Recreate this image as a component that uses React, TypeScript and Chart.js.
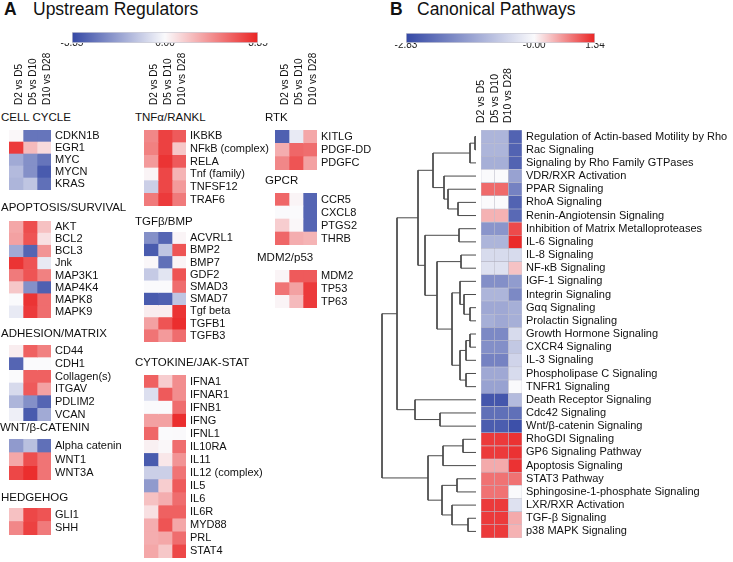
import React, { useEffect, useRef } from 'react';
import { Chart, registerables } from 'chart.js';

Chart.register(...registerables);

const FONT = "'Liberation Sans', Arial, Helvetica, sans-serif";
Chart.defaults.font.family = FONT;
Chart.defaults.color = '#111';

// ---------------- data ----------------
const comparisons = ['D2 vs D5', 'D5 vs D10', 'D10 vs D28'];

const rangeA = [-3.35, 3.35];
const colorTicksA = [-3.35, 0, 3.35];
const colorTickLabelsA = ['-3.35', '0.00', '3.35'];
const rangeB = [-2.83, 1.34];
const colorTicksB = [-2.83, 0, 1.34];
const colorTickLabelsB = ['-2.83', '-0.00', '1.34'];

const cellCycleRows = ['CDKN1B', 'EGR1', 'MYC', 'MYCN', 'KRAS'];
const cellCycleValues = [[0.05, -2.5, -2.5], [3.0, 1.0, 0.5], [-1.5, -2.0, -2.5], [-1.2, -2.0, -3.0], [-1.3, -1.0, -2.6]];

const apoptosisRows = ['AKT', 'BCL2', 'BCL3', 'Jnk', 'MAP3K1', 'MAP4K4', 'MAPK8', 'MAPK9'];
const apoptosisValues = [[1.3, 2.7, 0.9], [1.4, 2.6, 0.4], [-1.5, -2.8, 1.6], [3.1, 2.6, -0.3], [2.0, 2.6, 1.9], [0.8, -2.0, -2.9], [0, 3.1, 2.2], [-0.3, 3.0, 2.2]];

const adhesionRows = ['CD44', 'CDH1', 'Collagen(s)', 'ITGAV', 'PDLIM2', 'VCAN'];
const adhesionValues = [[0.2, 2.4, 1.9], [-2.8, 0, 0], [0, 2.4, 2.4], [-0.6, 2.5, 1.4], [-1.3, -2.0, -2.8], [-0.2, -3.0, -1.5]];

const wntRows = ['Alpha catenin', 'WNT1', 'WNT3A'];
const wntValues = [[-1.8, -1.1, -2.6], [1.3, 2.7, 2.1], [2.8, 3.2, 2.1]];

const hedgehogRows = ['GLI1', 'SHH'];
const hedgehogValues = [[0.9, 2.8, 2.6], [1.8, 2.9, 2.0]];

const tnfRows = ['IKBKB', 'NFkB (complex)', 'RELA', 'Tnf (family)', 'TNFSF12', 'TRAF6'];
const tnfValues = [[1.8, 2.9, 2.5], [1.9, 2.9, 0.8], [1.5, 3.1, 2.5], [0.1, 2.8, 1.1], [-0.8, 2.8, 1.5], [2.0, 3.0, 2.0]];

const tgfRows = ['ACVRL1', 'BMP2', 'BMP7', 'GDF2', 'SMAD3', 'SMAD7', 'Tgf beta', 'TGFB1', 'TGFB3'];
const tgfValues = [[-2.0, -2.8, 0.1], [-3.0, -1.0, 2.6], [0.05, -2.6, 0.1], [-0.9, -0.4, 2.6], [0, 0, 2.2], [-3.0, -2.9, -1.0], [0.2, 0.2, 3.1], [1.4, 2.6, 3.2], [2.1, 1.5, 2.2]];

const cytokineRows = ['IFNA1', 'IFNAR1', 'IFNB1', 'IFNG', 'IFNL1', 'IL10RA', 'IL11', 'IL12 (complex)', 'IL5', 'IL6', 'IL6R', 'MYD88', 'PRL', 'STAT4'];
const cytokineValues = [[2.4, 0.7, 1.7], [-0.5, 2.5, 1.7], [0, 0, 2.2], [1.4, 1.4, 3.2], [2.3, 0, 0.02], [0.15, 0.05, 2.2], [-3.0, 0.3, 1.6], [-0.8, -0.8, 2.1], [-1.8, 0.7, 2.5], [0.9, 1.2, 2.2], [0.4, 2.4, 2.4], [1.2, 2.6, 1.3], [1.2, 1.3, 2.2], [1.3, 0.8, 2.8]];

const rtkRows = ['KITLG', 'PDGF-DD', 'PDGFC'];
const rtkValues = [[-2.9, -0.3, 1.3], [1.2, 2.3, 2.2], [1.8, 2.6, 1.4]];

const gpcrRows = ['CCR5', 'CXCL8', 'PTGS2', 'THRB'];
const gpcrValues = [[2.3, 0.1, -2.8], [0, 0, -2.8], [0.7, 0.05, -2.8], [2.3, 1.2, 1.1]];

const mdmRows = ['MDM2', 'TP53', 'TP63'];
const mdmValues = [[0.1, 2.5, 2.5], [2.1, 1.4, 3.0], [0.1, 1.0, 3.0]];

const pathwayRows = [
  'Regulation of Actin-based Motility by Rho', 'Rac Signaling', 'Signaling by Rho Family GTPases', 'VDR/RXR Activation',
  'PPAR Signaling', 'RhoA Signaling', 'Renin-Angiotensin Signaling', 'Inhibition of Matrix Metalloproteases',
  'IL-6 Signaling', 'IL-8 Signaling', 'NF-\u03BAB Signaling', 'IGF-1 Signaling', 'Integrin Signaling',
  'G\u03B1q Signaling', 'Prolactin Signaling', 'Growth Hormone Signaling', 'CXCR4 Signaling', 'IL-3 Signaling',
  'Phospholipase C Signaling', 'TNFR1 Signaling', 'Death Receptor Signaling', 'Cdc42 Signaling',
  'Wnt/\u03B2-catenin Signaling', 'RhoGDI Signaling', 'GP6 Signaling Pathway', 'Apoptosis Signaling',
  'STAT3 Pathway', 'Sphingosine-1-phosphate Signaling', 'LXR/RXR Activation', 'TGF-\u03B2 Signaling', 'p38 MAPK Signaling',
];
const pathwayValues = [
  [-1.1, -1.1, -2.4], [-1.1, -1.1, -2.4], [-1.2, -1.2, -2.4], [0, 0, -1.4], [0.9, 0.9, -1.9], [0, 0, -2.4],
  [0.45, 0.45, -2.3], [-1.6, -1.6, 1.1], [-1.1, -1.1, 1.3], [-0.5, -0.5, -0.5], [-0.4, -0.4, 0.35],
  [-1.7, -1.7, -1.5], [-1.1, -1.1, -1.8], [-1.3, -1.3, -1.2], [-1.2, -1.3, -1.2], [-1.8, -1.8, -0.5],
  [-1.7, -1.7, -0.8], [-1.9, -1.9, -0.6], [-1.3, -1.3, -0.5], [-1.4, -1.4, 0], [-2.6, -2.6, -1.0],
  [-2.2, -2.2, -2.2], [-2.5, -2.5, -2.7], [1.2, 1.2, 1.25], [1.2, 1.2, 1.25], [0.5, 0.5, 1.25],
  [0.85, 0.85, 0.85], [0.85, 0.85, 0], [1.2, 1.2, -0.4], [1.2, 1.2, 0.5], [1.2, 1.2, 0.45],
];

// dendrogram merges: [childA, childB, height]; children < 31 are rows, >= 31 refer to earlier merges
const dendroMerges = [
  [0, 1, 1], [31, 2, 6], [5, 6, 18], [4, 33, 28], [3, 34, 32], [32, 35, 43],
  [7, 8, 17], [9, 10, 15], [13, 14, 6], [12, 39, 12], [11, 40, 16], [15, 16, 6],
  [42, 17, 10], [18, 19, 10], [43, 44, 16], [41, 45, 24], [38, 46, 39], [37, 47, 51],
  [36, 48, 58], [21, 22, 36], [20, 50, 61], [49, 51, 79], [23, 24, 13], [53, 25, 33],
  [26, 27, 19], [29, 30, 8], [28, 56, 24], [55, 57, 34], [54, 58, 48], [52, 59, 94],
];

// ---------------- styling helpers ----------------
const BLUE = [52, 72, 165];
const WHITE = [250, 250, 252];
const RED = [234, 36, 36];
const rgb = (c: number[]) => `rgb(${c.map(Math.round).join(',')})`;

function heatColor(v: number, min: number, max: number) {
  const neg = v < 0;
  const t = Math.min(1, neg ? v / min : v / max);
  const c = neg ? BLUE : RED;
  return rgb(WHITE.map((w, i) => w + (c[i] - w) * t));
}

const zeroPad = (s: any) => {
  s.paddingLeft = 0; s.paddingRight = 0; s.paddingTop = 0; s.paddingBottom = 0;
};

type HeatOpts = {
  headerH: number; headerPad: number; headerFont: number; labelOffset: number; labelW: number;
  border: boolean; labelFont: number; padLeft: number;
};

function heatConfig(rows: string[], values: number[][], range: number[], o: HeatOpts): any {
  return {
    type: 'bar',
    data: {
      labels: rows,
      datasets: comparisons.map((_, c) => ({
        data: rows.map(() => [c, c + 1]),
        backgroundColor: values.map((r) => heatColor(r[c], range[0], range[1])),
        borderWidth: o.border ? 0.6 : 0,
        borderColor: 'rgba(165,165,185,0.6)',
        borderSkipped: false,
        barPercentage: 1,
        categoryPercentage: 1,
        grouped: false,
      })),
    },
    options: {
      indexAxis: 'y',
      responsive: false,
      animation: false,
      events: [],
      layout: { padding: { left: o.padLeft, right: 0, top: 0, bottom: 0 } },
      plugins: { legend: { display: false }, tooltip: { enabled: false } },
      scales: {
        x: { type: 'linear', min: 0, max: 3, display: false },
        xh: {
          type: 'category', labels: comparisons, position: 'top', display: o.headerH > 0, offset: true,
          grid: { display: false, drawTicks: false }, border: { display: false },
          ticks: {
            autoSkip: false, minRotation: 90, maxRotation: 90, padding: o.headerPad, labelOffset: o.labelOffset,
            color: '#111', font: { family: FONT, size: o.headerFont },
          },
          afterFit: (s: any) => { s.height = o.headerH; zeroPad(s); },
        },
        y: {
          type: 'category', position: 'right', offset: true,
          grid: { display: false, drawTicks: false }, border: { display: false },
          ticks: { autoSkip: false, padding: 4, color: '#111', font: { family: FONT, size: o.labelFont } },
          afterFit: (s: any) => { s.width = o.labelW; zeroPad(s); },
        },
      },
    },
  };
}

function colorbarConfig(range: number[], ticks: number[], labels: string[], labelPad: number, padX: number): any {
  return {
    type: 'bar',
    data: {
      labels: [''],
      datasets: [{
        data: [[range[0], range[1]]],
        backgroundColor: (ctx: any) => {
          const chart = ctx.chart;
          const xs = chart.scales && chart.scales.x;
          if (!xs || !chart.chartArea) return 'rgba(0,0,0,0)';
          const x0 = xs.getPixelForValue(range[0]);
          const x1 = xs.getPixelForValue(range[1]);
          const g = chart.ctx.createLinearGradient(x0, 0, x1, 0);
          g.addColorStop(0, rgb(BLUE));
          g.addColorStop((0 - range[0]) / (range[1] - range[0]), rgb(WHITE));
          g.addColorStop(1, rgb(RED));
          return g;
        },
        borderWidth: 1,
        borderColor: 'rgba(200,200,210,0.9)',
        borderSkipped: false,
        barPercentage: 1,
        categoryPercentage: 1,
      }],
    },
    options: {
      indexAxis: 'y',
      responsive: false,
      animation: false,
      events: [],
      layout: { padding: { left: padX, right: padX, top: 0, bottom: 0 } },
      plugins: { legend: { display: false }, tooltip: { enabled: false } },
      scales: {
        x: {
          type: 'linear', min: range[0], max: range[1], position: 'bottom', z: 1,
          grid: { display: false, drawTicks: false }, border: { display: false },
          afterBuildTicks: (s: any) => { s.ticks = ticks.map((v) => ({ value: v })); },
          ticks: {
            z: 1, autoSkip: false, maxRotation: 0, padding: labelPad, color: '#222', font: { family: FONT, size: 10 },
            callback: (_v: any, i: number) => labels[i],
          },
          afterFit: (s: any) => { s.height = 16; zeroPad(s); },
        },
        y: { display: false },
      },
    },
  };
}

function dendroConfig(): any {
  const nodes: { x: number; y: number }[] = [];
  for (let i = 0; i < pathwayRows.length; i++) nodes.push({ x: 0, y: i });
  const datasets: any[] = [];
  dendroMerges.forEach(([a, b, h]) => {
    const A = nodes[a];
    const B = nodes[b];
    datasets.push({
      data: [{ x: A.x, y: A.y }, { x: h, y: A.y }, { x: h, y: B.y }, { x: B.x, y: B.y }],
      showLine: true, borderColor: '#4a4a4a', borderWidth: 1, pointRadius: 0, tension: 0, fill: false,
    });
    nodes.push({ x: h, y: (A.y + B.y) / 2 });
  });
  return {
    type: 'scatter',
    data: { datasets },
    options: {
      responsive: false, animation: false, events: [],
      layout: { padding: 0 },
      plugins: { legend: { display: false }, tooltip: { enabled: false } },
      scales: {
        x: { type: 'linear', min: 0, max: 100, reverse: true, display: false },
        y: { type: 'linear', min: -0.5, max: pathwayRows.length - 0.5, reverse: true, display: false },
      },
    },
  };
}

// ---------------- layout ----------------
type Block = {
  title: string; tx: number; ty: number; rows: string[]; values: number[][];
  left: number; top: number; bottom: number; headers: boolean; labelW: number;
};

const CELL_W = 42;
const blocksA: Block[] = [
  { title: 'CELL CYCLE', tx: 1, ty: 118, rows: cellCycleRows, values: cellCycleValues, left: 9, top: 130, bottom: 190, headers: true, labelW: 80 },
  { title: 'APOPTOSIS/SURVIVAL', tx: 1, ty: 208, rows: apoptosisRows, values: apoptosisValues, left: 9, top: 221, bottom: 318, headers: false, labelW: 80 },
  { title: 'ADHESION/MATRIX', tx: 1, ty: 334, rows: adhesionRows, values: adhesionValues, left: 9, top: 345, bottom: 421, headers: false, labelW: 80 },
  { title: 'WNT/\u03B2-CATENIN', tx: 0, ty: 428, rows: wntRows, values: wntValues, left: 9, top: 439, bottom: 480, headers: false, labelW: 80 },
  { title: 'HEDGEHOG', tx: 1, ty: 498, rows: hedgehogRows, values: hedgehogValues, left: 9, top: 508, bottom: 535, headers: false, labelW: 80 },
  { title: 'TNF\u03B1/RANKL', tx: 135, ty: 118, rows: tnfRows, values: tnfValues, left: 144, top: 130, bottom: 206, headers: true, labelW: 90 },
  { title: 'TGF\u03B2/BMP', tx: 135, ty: 222, rows: tgfRows, values: tgfValues, left: 144, top: 232, bottom: 342, headers: false, labelW: 90 },
  { title: 'CYTOKINE/JAK-STAT', tx: 135, ty: 363, rows: cytokineRows, values: cytokineValues, left: 144, top: 375, bottom: 558, headers: false, labelW: 90 },
  { title: 'RTK', tx: 265, ty: 118, rows: rtkRows, values: rtkValues, left: 275, top: 130, bottom: 170, headers: true, labelW: 70 },
  { title: 'GPCR', tx: 265, ty: 181, rows: gpcrRows, values: gpcrValues, left: 275, top: 193, bottom: 245, headers: false, labelW: 70 },
  { title: 'MDM2/p53', tx: 257, ty: 258, rows: mdmRows, values: mdmValues, left: 275, top: 270, bottom: 308, headers: false, labelW: 70 },
];

function ChartCanvas(props: { left: number; top: number; width: number; height: number; make: () => any }) {
  const ref = useRef<HTMLCanvasElement | null>(null);
  useEffect(() => {
    if (!ref.current) return;
    const chart = new Chart(ref.current, props.make());
    return () => chart.destroy();
  }, []);
  const { left, top, width, height } = props;
  return (
    <canvas
      ref={ref}
      width={width}
      height={height}
      style={{ position: 'absolute', left, top, width, height, display: 'block' }}
    />
  );
}

function Label(props: { x: number; cy: number; size: number; bold?: boolean; children: React.ReactNode }) {
  const { x, cy, size, bold } = props;
  return (
    <div
      style={{
        position: 'absolute', left: x, top: cy - 0.49 * size, fontSize: size, lineHeight: 1,
        fontWeight: bold ? 700 : 400, whiteSpace: 'nowrap', color: '#111', fontFamily: FONT,
      }}
    >
      {props.children}
    </div>
  );
}

export default function App() {
  const headerA = 90;
  const headerB = 75;
  const bTop = 130;
  const bBottom = 538;
  const bPadLeft = 16;
  return (
    <div
      style={{
        position: 'absolute', left: 0, top: 0, width: 733, height: 562, overflow: 'hidden',
        background: '#fff', fontFamily: FONT,
      }}
    >
      <Label x={4} cy={10} size={17.5} bold>A</Label>
      <Label x={33} cy={10} size={17.5}>Upstream Regulators</Label>
      <Label x={390} cy={10} size={17.5} bold>B</Label>
      <Label x={417} cy={10} size={17.5}>Canonical Pathways</Label>

      <ChartCanvas
        left={72 - 25} top={32} width={186 + 50} height={11 + 16}
        make={() => colorbarConfig(rangeA, colorTicksA, colorTickLabelsA, -6, 25)}
      />
      <ChartCanvas
        left={406 - 25} top={33} width={189 + 50} height={10 + 16}
        make={() => colorbarConfig(rangeB, colorTicksB, colorTickLabelsB, -4, 25)}
      />

      {blocksA.map((b) => {
        const hh = b.headers ? headerA : 0;
        return (
          <React.Fragment key={b.title}>
            <Label x={b.tx} cy={b.ty} size={11.5}>{b.title}</Label>
            <ChartCanvas
              left={b.left} top={b.top - hh} width={CELL_W + b.labelW} height={b.bottom - b.top + hh}
              make={() => heatConfig(b.rows, b.values, rangeA, {
                headerH: hh, headerPad: 25, headerFont: 10, labelOffset: 15.5, labelW: b.labelW,
                border: false, labelFont: 11, padLeft: 0,
              })}
            />
          </React.Fragment>
        );
      })}

      <ChartCanvas
        left={376} top={bTop} width={100} height={bBottom - bTop}
        make={() => dendroConfig()}
      />
      <ChartCanvas
        left={481 - bPadLeft} top={bTop - headerB} width={bPadLeft + 41 + 212} height={bBottom - bTop + headerB}
        make={() => heatConfig(pathwayRows, pathwayValues, rangeB, {
          headerH: headerB, headerPad: 7, headerFont: 10.5, labelOffset: 6, labelW: 212,
          border: true, labelFont: 11, padLeft: bPadLeft,
        })}
      />
    </div>
  );
}
